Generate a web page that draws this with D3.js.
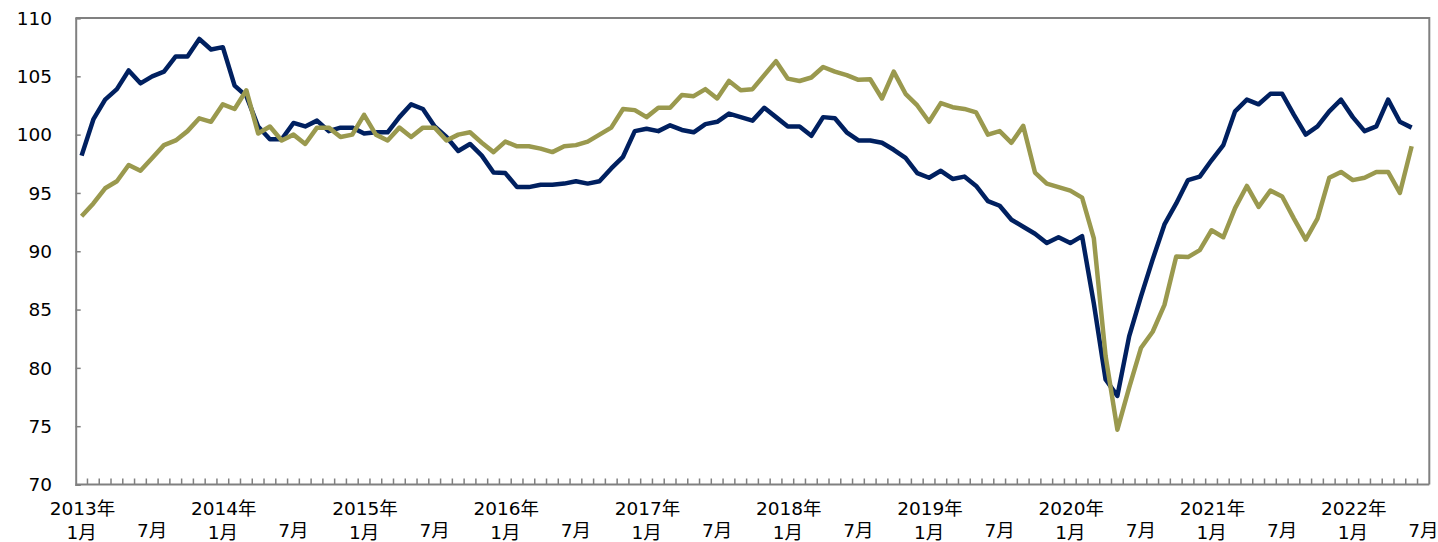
<!DOCTYPE html>
<html>
<head>
<meta charset="utf-8">
<script src="https://cdn.jsdelivr.net/npm/d3@7"></script>
<style>
  html, body { margin: 0; padding: 0; background: #fff; }
  svg { display: block; }
  text { font-family: "DejaVu Sans", Verdana, "Noto Sans CJK JP", sans-serif; fill: #000; }
</style>
</head>
<body>
<svg id="chart" width="1438" height="542"></svg>
<script>
// Monthly categories: 2013-01 through 2022-07
const startYear = 2013;
const monthCount = 115;
const categories = d3.range(monthCount).map(i => {
  const y = startYear + Math.floor(i / 12);
  const m = (i % 12) + 1;
  return `${y}-${String(m).padStart(2, "0")}`;
});

// Y axis tick values
const yTicks = [70, 75, 80, 85, 90, 95, 100, 105, 110];

// Series 1 (navy), 2013-01 .. 2022-06
const navyValues = [
  98.2, 101.3, 103.0, 103.9, 105.5, 104.4, 105.0, 105.4, 106.7, 106.7, 108.2, 107.3,
  107.5, 104.2, 103.3, 100.7, 99.6, 99.6, 101.0, 100.7, 101.2, 100.3, 100.6, 100.6,
  100.1, 100.2, 100.2, 101.5, 102.6, 102.2, 100.7, 99.8, 98.6, 99.2, 98.2, 96.75,
  96.7, 95.5, 95.5, 95.7, 95.7, 95.8, 96.0, 95.8, 96.0, 97.1, 98.1, 100.3,
  100.5, 100.3, 100.8, 100.4, 100.2, 100.9, 101.1, 101.8, 101.5, 101.2, 102.3, 101.5,
  100.7, 100.7, 99.9, 101.5, 101.4, 100.2, 99.5, 99.5, 99.3, 98.7, 98.0, 96.7,
  96.3, 96.9, 96.2, 96.4, 95.6, 94.3, 93.9, 92.7, 92.1, 91.5, 90.7, 91.2,
  90.7, 91.3, 85.5, 79.0, 77.6, 82.7, 86.1, 89.3, 92.3, 94.1, 96.1, 96.4,
  97.8, 99.1, 102.0, 103.0, 102.6, 103.5, 103.5, 101.7, 100.0, 100.7, 102.0, 103.0,
  101.5, 100.3, 100.7, 103.0, 101.1, 100.6
];

// Series 2 (olive), 2013-01 .. 2022-06
const oliveValues = [
  93.0, 94.1, 95.4, 96.0, 97.4, 96.9, 98.0, 99.1, 99.5, 100.3, 101.4, 101.1,
  102.6, 102.2, 103.8, 100.1, 100.7, 99.5, 100.0, 99.2, 100.6, 100.6, 99.8, 100.0,
  101.7, 100.0, 99.5, 100.6, 99.8, 100.6, 100.6, 99.5, 100.0, 100.2, 99.3, 98.5,
  99.4, 99.0, 99.0, 98.8, 98.5, 99.0, 99.1, 99.4, 100.0, 100.6, 102.2, 102.1,
  101.5, 102.3, 102.3, 103.4, 103.3, 103.9, 103.1, 104.6, 103.8, 103.9, 105.1, 106.3,
  104.8, 104.6, 104.9, 105.8, 105.4, 105.1, 104.7, 104.75, 103.1, 105.4, 103.5, 102.5,
  101.1, 102.7, 102.35, 102.2, 101.9, 100.0, 100.3, 99.3, 100.75, 96.75, 95.8, 95.5,
  95.2, 94.6, 91.1, 81.0, 74.7, 78.3, 81.7, 83.1, 85.4, 89.55, 89.5, 90.1,
  91.8, 91.2, 93.7, 95.6, 93.8, 95.2, 94.7, 92.8, 91.0, 92.8, 96.3, 96.8,
  96.1, 96.3, 96.8, 96.8, 95.0, 99.0
];

const plot = { left: 75.7, right: 1429.3, top: 18, bottom: 484.5 };
const axisColor = "#808080";

const svg = d3.select("#chart");

const x = d3.scaleBand()
  .domain(categories)
  .range([plot.left, plot.right])
  .padding(0);

const y = d3.scaleLinear()
  .domain([70, 110])
  .range([plot.bottom, plot.top]);

const cx = c => x(c) + x.bandwidth() / 2;

// Plot-area frame (top and right edges)
svg.append("path")
  .attr("d", `M${plot.left},${plot.top}H${plot.right}V${plot.bottom}`)
  .attr("fill", "none")
  .attr("stroke", axisColor)
  .attr("stroke-width", 2);

// Y axis: inward ticks, labels on the left
const yAxis = svg.append("g")
  .attr("transform", `translate(${plot.left},0)`)
  .call(d3.axisRight(y).tickValues(yTicks).tickSize(5).tickFormat(""));
yAxis.select(".domain").attr("stroke", axisColor).attr("stroke-width", 2);
yAxis.selectAll(".tick line").attr("stroke", axisColor).attr("stroke-width", 1.5);

svg.append("g")
  .selectAll("text")
  .data(yTicks)
  .join("text")
  .attr("x", 52)
  .attr("y", d => y(d))
  .attr("dy", "0.36em")
  .attr("text-anchor", "end")
  .attr("font-size", 18.5)
  .text(d => d);

// X axis: a tick at every month boundary, pointing up into the plot
const boundaries = categories.slice(1).map(c => x(c));
const xAxis = svg.append("g");
xAxis.append("line")
  .attr("x1", plot.left).attr("x2", plot.right)
  .attr("y1", plot.bottom).attr("y2", plot.bottom)
  .attr("stroke", axisColor).attr("stroke-width", 2);
xAxis.selectAll("line.tick")
  .data(boundaries)
  .join("line")
  .attr("class", "tick")
  .attr("x1", d => d).attr("x2", d => d)
  .attr("y1", plot.bottom).attr("y2", plot.bottom - 6)
  .attr("stroke", axisColor).attr("stroke-width", 1.5);

// Category labels: year + "1月" for January, "7月" for July
const janCats = categories.filter(c => c.endsWith("-01"));
const julCats = categories.filter(c => c.endsWith("-07"));

svg.append("g").selectAll("text")
  .data(janCats)
  .join("text")
  .attr("x", d => cx(d) + 1)
  .attr("y", 508.5)
  .attr("dy", "0.36em")
  .attr("text-anchor", "middle")
  .attr("font-size", 18.5)
  .text(d => `${d.slice(0, 4)}年`);

svg.append("g").selectAll("text")
  .data(janCats)
  .join("text")
  .attr("x", d => cx(d))
  .attr("y", 532.5)
  .attr("dy", "0.36em")
  .attr("text-anchor", "middle")
  .attr("font-size", 18.5)
  .text("1月");

svg.append("g").selectAll("text")
  .data(julCats)
  .join("text")
  .attr("x", d => cx(d))
  .attr("y", 530.5)
  .attr("dy", "0.36em")
  .attr("text-anchor", "middle")
  .attr("font-size", 18.5)
  .text("7月");

// Series lines
const line = d3.line()
  .x((d, i) => cx(categories[i]))
  .y(d => y(d));

svg.append("path")
  .datum(navyValues)
  .attr("d", line)
  .attr("fill", "none")
  .attr("stroke", "#002060")
  .attr("stroke-width", 4.5)
  .attr("stroke-linejoin", "round");

svg.append("path")
  .datum(oliveValues)
  .attr("d", line)
  .attr("fill", "none")
  .attr("stroke", "#9a994e")
  .attr("stroke-width", 4.5)
  .attr("stroke-linejoin", "round");
</script>
</body>
</html>
